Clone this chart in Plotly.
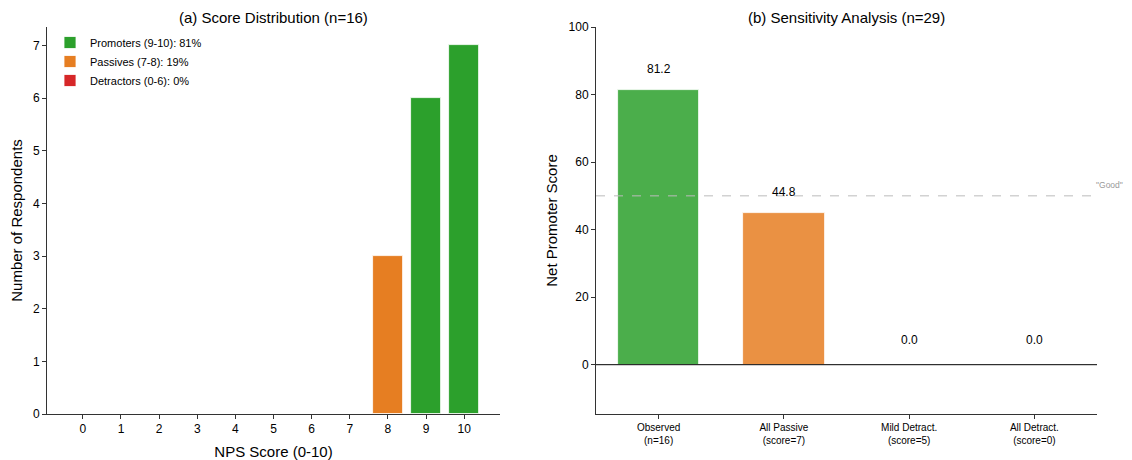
import plotly.graph_objects as go

# ---- data ----
scores = list(range(11))
counts = [0, 0, 0, 0, 0, 0, 0, 0, 3, 6, 7]
groups = ["Promoters (9-10): 81%", "Passives (7-8): 19%", "Detractors (0-6): 0%"]
group_ranges = [(9, 10), (7, 8), (0, 6)]
group_colors = ["#2ca02c", "#e67e22", "#d62728"]

scenarios = ["Observed<br>(n=16)", "All Passive<br>(score=7)", "Mild Detract.<br>(score=5)", "All Detract.<br>(score=0)"]
nps_values = [81.2, 44.8, 0.0, 0.0]
scenario_colors = ["rgba(44,160,44,0.85)", "rgba(230,126,34,0.85)", "rgba(214,39,40,0.85)", "rgba(214,39,40,0.85)"]
good_threshold = 50

OFF = 8  # page body margin offset
W, H = 1132 - 2 * OFF, 460 - OFF
T = 27 - OFF
B = H - (414 - OFF)
PH = H - T - B
FONT = "Liberation Sans, Arial, Helvetica, sans-serif"


def px(xs):
    return (xs - OFF) / W


def py(ys):
    return (H - B - (ys - OFF)) / PH


fig = go.Figure()

# left panel
for name, (lo, hi), col in zip(groups, group_ranges, group_colors):
    xs = [s for s in scores if lo <= s <= hi]
    ys = [counts[s] for s in xs]
    fig.add_trace(go.Bar(x=xs, y=ys, name=name, marker=dict(color=col, line=dict(color="white", width=0.8)),
                         width=0.8, xaxis="x", yaxis="y", showlegend=True))

# right panel
fig.add_trace(go.Bar(x=list(range(len(scenarios))), y=nps_values,
                     marker=dict(color=scenario_colors, line=dict(color="white", width=0.8)),
                     width=0.65, xaxis="x2", yaxis="y2", showlegend=False))

for i, v in enumerate(nps_values):
    fig.add_annotation(x=i, y=v, xref="x2", yref="y2", text=f"{v:.1f}", showarrow=False,
                       yshift=21 if v > 0 else 25, font=dict(size=12, color="black", family=FONT))

fig.add_shape(type="line", xref="x2 domain", yref="y2", x0=0, x1=1, y0=good_threshold, y1=good_threshold,
              line=dict(color="#bbbbbb", width=1, dash="dash"))
fig.add_shape(type="line", xref="x2 domain", yref="y2", x0=0, x1=1, y0=0, y1=0,
              line=dict(color="black", width=1))
fig.add_annotation(x=px(1094), y=good_threshold, xref="paper", yref="y2", text='"Good"', showarrow=False,
                   xanchor="left", yanchor="middle",
                   yshift=11, font=dict(size=8.5, color="#999999", family=FONT))

axis_common = dict(showline=True, linecolor="#333333", linewidth=1, ticks="outside", ticklen=4,
                   tickcolor="#333333", showgrid=False, zeroline=False,
                   tickfont=dict(size=12, color="black", family=FONT))

fig.update_layout(
    width=W, height=H,
    margin=dict(l=0, r=0, t=T, b=B, autoexpand=False),
    plot_bgcolor="white", paper_bgcolor="white",
    font=dict(family=FONT, color="black"),
    bargap=0, barmode="overlay",
    xaxis=dict(domain=[px(47), px(500)], range=[-0.94, 10.94], tickmode="array", tickvals=scores,
               title=dict(text="NPS Score (0-10)", font=dict(size=15), standoff=11), **axis_common),
    yaxis=dict(range=[0, 7.35], tickmode="array", tickvals=list(range(8)),
               title=dict(text="Number of Respondents", font=dict(size=15), standoff=8), **axis_common),
    xaxis2=dict(domain=[px(596), px(1097)], range=[-0.5, 3.5], tickmode="array",
                tickvals=list(range(len(scenarios))), ticktext=scenarios, anchor="y2",
                **{**axis_common, "tickfont": dict(size=10, color="black", family=FONT)}),
    yaxis2=dict(range=[-14.6, 100], tickmode="array", tickvals=[0, 20, 40, 60, 80, 100], anchor="x2",
                title=dict(text="Net Promoter Score", font=dict(size=15), standoff=7), **axis_common),
    legend=dict(x=px(50), y=py(28), xref="paper", yref="paper", xanchor="left", yanchor="top",
                bgcolor="rgba(255,255,255,0)", font=dict(size=11, family=FONT),
                tracegroupgap=0, itemwidth=30),
    annotations=list(fig.layout.annotations) + [
        dict(text="(a) Score Distribution (n=16)", x=px(273.5), y=py(17), xref="paper", yref="paper",
             xanchor="center", yanchor="middle",
             showarrow=False, font=dict(size=15, family=FONT)),
        dict(text="(b) Sensitivity Analysis (n=29)", x=px(846), y=py(17), xref="paper", yref="paper",
             xanchor="center", yanchor="middle",
             showarrow=False, font=dict(size=15, family=FONT)),
    ],
)

fig.write_html("out.html")
